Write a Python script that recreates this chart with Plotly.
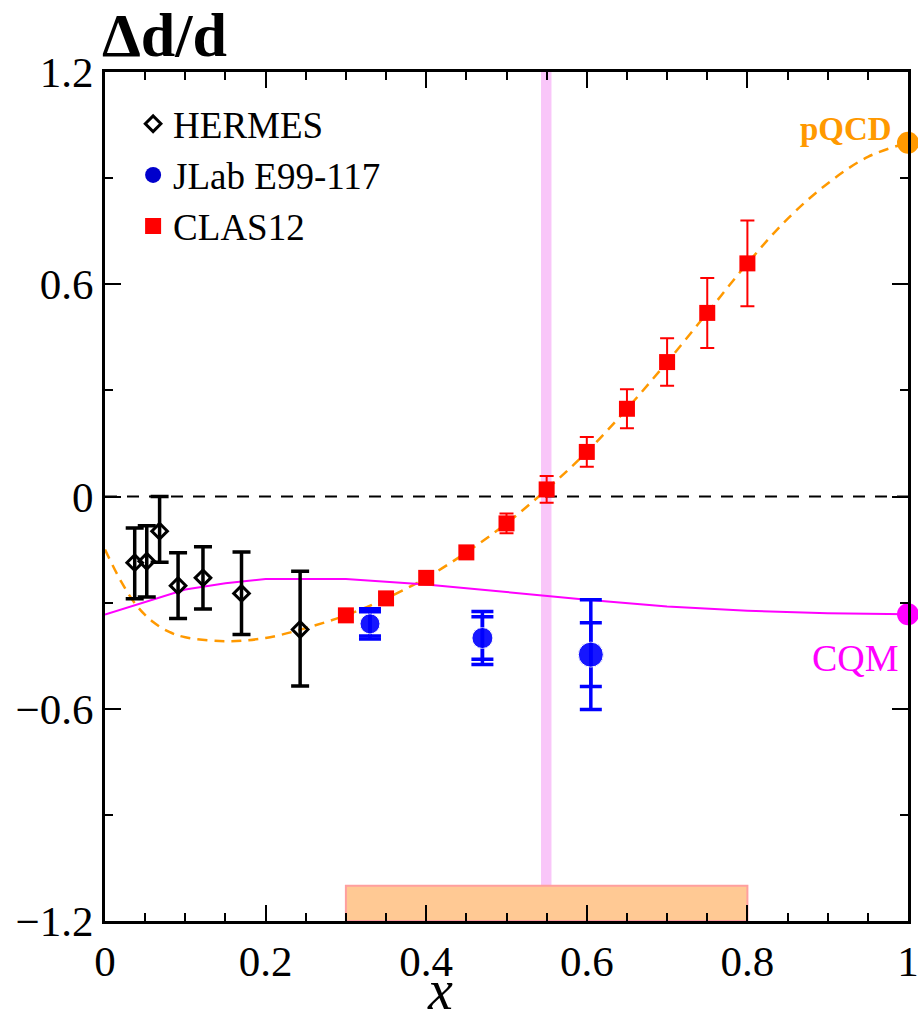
import numpy as np
import plotly.graph_objects as go

FONT = "Liberation Serif"

# HERMES
hermes_x = [0.037, 0.052, 0.068, 0.091, 0.122, 0.170, 0.243]
hermes_y = [-0.187, -0.183, -0.098, -0.252, -0.230, -0.274, -0.376]
hermes_err_up = [0.098, 0.100, 0.098, 0.093, 0.088, 0.117, 0.165]
hermes_err_dn = [0.102, 0.101, 0.088, 0.093, 0.088, 0.116, 0.160]

# JLab E99-117 (stat and total)
jlab_x = [0.330, 0.470, 0.605]
jlab_y = [-0.360, -0.400, -0.447]
jlab_stat = [0.034, 0.060, 0.090]
jlab_tot = [0.043, 0.075, 0.155]
jlab_size = [20, 21, 25]

# CLAS12 projection
clas_x = [0.30, 0.35, 0.40, 0.45, 0.50, 0.55, 0.60, 0.65, 0.70, 0.75, 0.80]
clas_y = [-0.336, -0.288, -0.230, -0.158, -0.076, 0.020, 0.126, 0.248, 0.380, 0.519, 0.659]
clas_err = [0.008, 0.010, 0.012, 0.014, 0.028, 0.038, 0.042, 0.055, 0.067, 0.099, 0.121]

# pQCD curve
pqcd_x = [0.0, 0.02, 0.04, 0.06, 0.08, 0.10, 0.15, 0.20, 0.25, 0.30, 0.35, 0.40,
          0.45, 0.50, 0.55, 0.60, 0.65, 0.70, 0.75, 0.80, 0.85, 0.90, 0.95, 1.0]
pqcd_y = [-0.150, -0.240, -0.310, -0.355, -0.383, -0.398, -0.409, -0.400, -0.372,
          -0.336, -0.288, -0.230, -0.158, -0.076, 0.020, 0.126, 0.248, 0.380,
          0.519, 0.659, 0.785, 0.885, 0.960, 1.0]

# CQM curve
cqm_x = [0.0, 0.05, 0.10, 0.15, 0.20, 0.30, 0.40, 0.50, 0.60, 0.70, 0.80, 0.90, 1.0]
cqm_y = [-0.334, -0.298, -0.263, -0.245, -0.233, -0.233, -0.249, -0.270, -0.292,
         -0.311, -0.323, -0.330, -0.333]

# x = 1 limits
pqcd_limit = 1.0
cqm_limit = -0.333

# highlighted x band and x coverage bar
band_x = [0.543, 0.556]
cover_x = [0.30, 0.80]
cover_y = [-1.2, -1.1]

ORANGE = "#FF9900"
MAGENTA = "#FF00FF"
BLUE = "#0000FF"
RED = "#FF0000"

fig = go.Figure()

fig.add_trace(go.Scatter(x=pqcd_x, y=pqcd_y, mode="lines", showlegend=False,
                         line=dict(color=ORANGE, width=2.5, dash="10px,7px", shape="spline")))
fig.add_trace(go.Scatter(x=cqm_x, y=cqm_y, mode="lines", showlegend=False,
                         line=dict(color=MAGENTA, width=2)))

fig.add_trace(go.Scatter(
    x=hermes_x, y=hermes_y, mode="markers", name="HERMES",
    marker=dict(symbol="diamond-open", size=12, color="black",
                line=dict(color="black", width=3)),
    error_y=dict(type="data", array=hermes_err_up, arrayminus=hermes_err_dn,
                 color="black", thickness=3.5, width=9),
))

# legend entry for the JLab points
fig.add_trace(go.Scatter(
    x=[None], y=[None], mode="markers", name="JLab E99-117",
    marker=dict(symbol="circle", size=22, color="#0000CC"),
))
fig.add_trace(go.Scatter(
    x=jlab_x, y=jlab_y, mode="markers", showlegend=False,
    marker=dict(symbol="circle", size=jlab_size, color=BLUE),
    error_y=dict(type="data", array=jlab_tot, color=BLUE, thickness=3.5, width=11),
))
fig.add_trace(go.Scatter(
    x=jlab_x, y=jlab_y, mode="markers", showlegend=False,
    marker=dict(symbol="circle", size=jlab_size, color=BLUE),
    error_y=dict(type="data", array=jlab_stat, color=BLUE, thickness=3.5, width=11),
))

fig.add_trace(go.Scatter(
    x=clas_x, y=clas_y, mode="markers", name="CLAS12",
    marker=dict(symbol="square", size=16, color=RED),
    error_y=dict(type="data", array=clas_err, color=RED, thickness=2, width=7),
))

fig.add_trace(go.Scatter(x=[1.0], y=[pqcd_limit], mode="markers", showlegend=False,
                         cliponaxis=False, marker=dict(size=22, color=ORANGE)))
fig.add_trace(go.Scatter(x=[1.0], y=[cqm_limit], mode="markers", showlegend=False,
                         cliponaxis=False, marker=dict(size=22, color=MAGENTA)))

fig.add_shape(type="rect", xref="x", yref="paper", x0=band_x[0], x1=band_x[1], y0=0, y1=1,
              fillcolor="#F9C6F9", line=dict(width=0), layer="below")
fig.add_shape(type="rect", xref="x", yref="y", x0=cover_x[0], x1=cover_x[1],
              y0=cover_y[0], y1=cover_y[1], fillcolor="#FFC994",
              line=dict(color="#FF9F9F", width=2), layer="below")
fig.add_shape(type="line", xref="paper", yref="y", x0=0, x1=1, y0=0, y1=0,
              line=dict(color="black", width=2, dash="12px,10px"), layer="below")

fig.add_annotation(text="<b>pQCD</b>", x=0.923, y=pqcd_limit, xref="x", yref="y",
                   showarrow=False, yshift=14, font=dict(family=FONT, size=33, color=ORANGE))
fig.add_annotation(text="CQM", x=0.935, y=cqm_limit, xref="x", yref="y",
                   showarrow=False, yshift=-44, font=dict(family=FONT, size=38, color=MAGENTA))
fig.add_annotation(text="<b>\u0394d/d</b>", x=-0.006, y=1, xref="paper", yref="paper",
                   xanchor="left", yanchor="bottom", yshift=1, showarrow=False,
                   font=dict(family=FONT, size=62, color="black"))
fig.add_annotation(text="<i>x</i>", x=0.417, y=0, xref="paper", yref="paper",
                   xanchor="center", yanchor="top", yshift=-44, height=46,
                   valign="middle", showarrow=False,
                   font=dict(family=FONT, size=56, color="black"))

axis_common = dict(showline=True, linewidth=3, linecolor="black", mirror="allticks",
                   ticks="inside", ticklen=16, tickwidth=2, tickcolor="black",
                   showgrid=False, zeroline=False, automargin=False,
                   ticklabeloverflow="allow",
                   tickfont=dict(family=FONT, size=43, color="black"))

fig.update_xaxes(range=[0, 1], tickvals=[0, 0.2, 0.4, 0.6, 0.8, 1.0],
                 ticktext=["0", "0.2", "0.4", "0.6", "0.8", "1"],
                 minor=dict(ticks="inside", ticklen=8, tickwidth=2, tickcolor="black",
                            tickvals=list(np.round(np.arange(0, 1.0001, 0.05), 2))),
                 **axis_common)
fig.update_yaxes(range=[-1.2, 1.2], tickvals=[-1.2, -0.6, 0, 0.6, 1.2],
                 ticktext=["\u22121.2", "\u22120.6", "0", "0.6", "1.2"],
                 minor=dict(ticks="inside", ticklen=8, tickwidth=2, tickcolor="black",
                            tickvals=[-0.9, -0.3, 0.3, 0.9]),
                 **axis_common)

fig.update_layout(
    width=918, height=1016,
    margin=dict(l=105, r=10, t=72, b=95),
    paper_bgcolor="white", plot_bgcolor="white",
    font=dict(family=FONT, color="black"),
    legend=dict(x=0.035, y=0.975, xanchor="left", yanchor="top",
                bgcolor="rgba(0,0,0,0)", borderwidth=0,
                font=dict(family=FONT, size=37, color="black"),
                itemsizing="trace"),
)

fig.write_html("out.html")
